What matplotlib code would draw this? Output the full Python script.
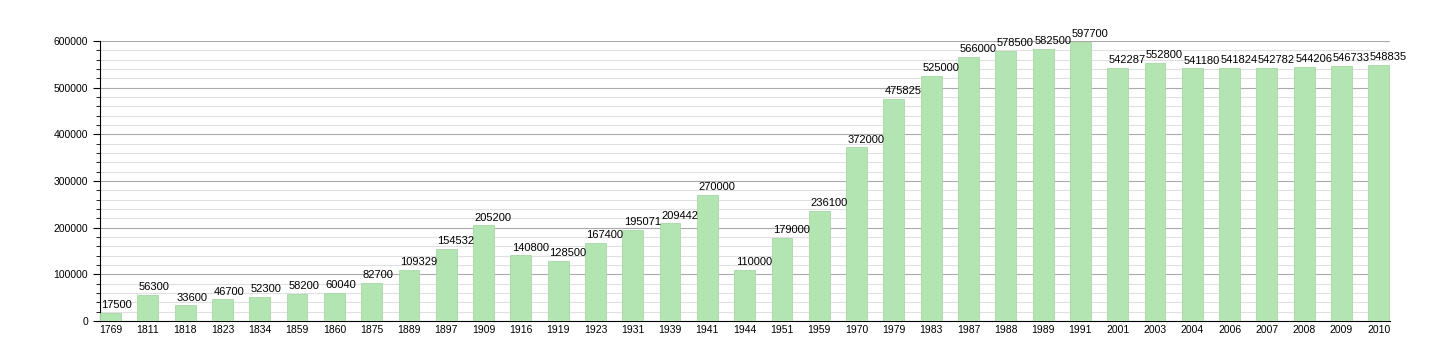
import numpy as np
import matplotlib.pyplot as plt
from matplotlib.ticker import MultipleLocator

years = ['1769', '1811', '1818', '1823', '1834', '1859', '1860', '1875', '1889', '1897',
         '1909', '1916', '1919', '1923', '1931', '1939', '1941', '1944', '1951', '1959',
         '1970', '1979', '1983', '1987', '1988', '1989', '1991', '2001', '2003', '2004',
         '2006', '2007', '2008', '2009', '2010']
population = [17500, 56300, 33600, 46700, 52300, 58200, 60040, 82700, 109329, 154532,
              205200, 140800, 128500, 167400, 195071, 209442, 270000, 110000, 179000, 236100,
              372000, 475825, 525000, 566000, 578500, 582500, 597700, 542287, 552800, 541180,
              541824, 542782, 544206, 546733, 548835]

plt.rcParams['font.family'] = ['Liberation Sans', 'DejaVu Sans']
fig = plt.figure(figsize=(14.3, 3.6), dpi=100)
ax = fig.add_axes([0.07, 0.108, 0.902, 0.778])

x = np.arange(len(years))
w = 0.56
ax.bar(x, population, width=w, color='#b2e5b2', edgecolor='#a8d8a8', linewidth=0.6, zorder=3)
for xi, v in zip(x, population):
    ax.text(xi - w / 2 + 0.04, v + 6000, str(v), ha='left', va='bottom', fontsize=8, zorder=4)

ax.set_xlim(-0.28, len(years) - 0.7)
ax.set_ylim(0, 600000)
ax.set_xticks(x)
ax.set_xticklabels(years, fontsize=7.5)
ax.yaxis.set_major_locator(MultipleLocator(100000))
ax.yaxis.set_minor_locator(MultipleLocator(20000))
ax.tick_params(axis='y', labelsize=7.5, length=5, which='major')
ax.tick_params(axis='y', length=3, which='minor')
ax.tick_params(axis='x', length=0, pad=3)
ax.grid(axis='y', which='major', color='#aaaaaa', linewidth=0.8, zorder=0)
ax.grid(axis='y', which='minor', color='#e0e0e0', linewidth=0.8, zorder=0)
ax.spines['top'].set_visible(False)
ax.spines['right'].set_visible(False)

fig.savefig('out.png', dpi=100)
